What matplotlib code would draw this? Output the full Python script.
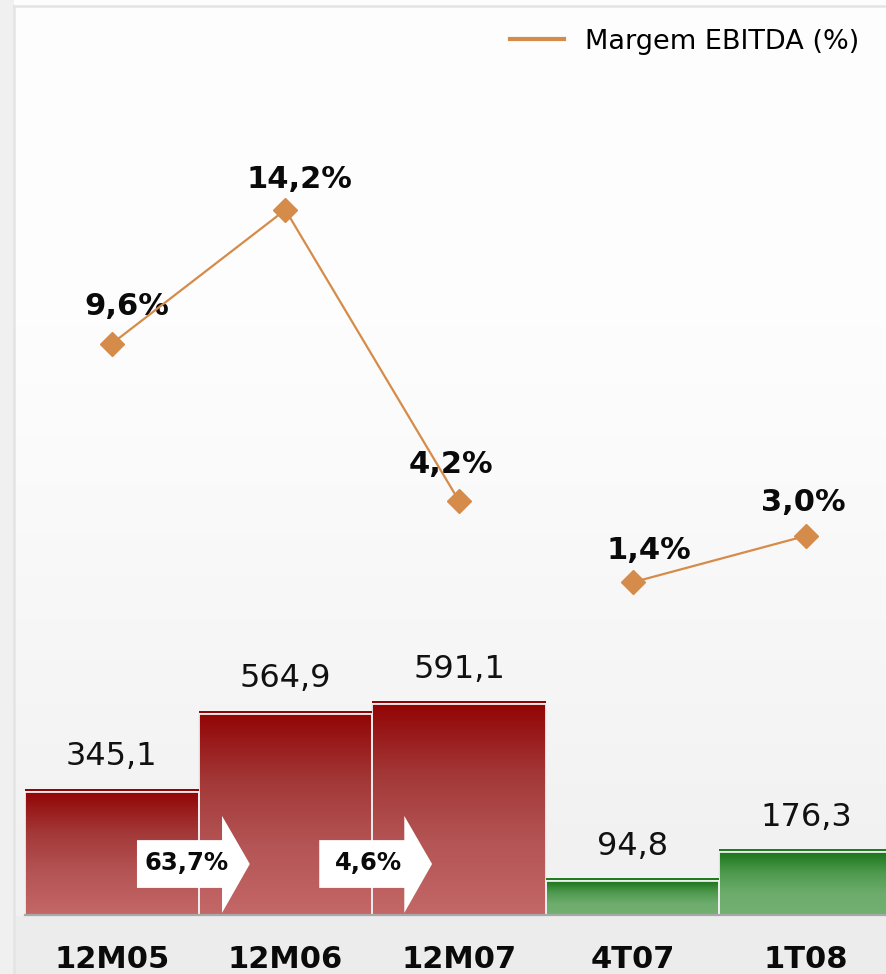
import matplotlib
matplotlib.use("Agg")
import matplotlib.pyplot as plt
import numpy as np
from matplotlib.colors import LinearSegmentedColormap
from matplotlib.patches import Polygon, Rectangle

# dados
periodos = ["12M05", "12M06", "12M07", "4T07", "1T08"]
ebitda = [345.1, 564.9, 591.1, 94.8, 176.3]
margem = [9.6, 14.2, 4.2, 1.4, 3.0]
rotulos_ebitda = ["345,1", "564,9", "591,1", "94,8", "176,3"]
rotulos_margem = ["9,6%", "14,2%", "4,2%", "1,4%", "3,0%"]
grupos = [(0, 3), (3, 5)]          # anual / trimestral
crescimento = [(0, 1), (1, 2)]      # setas de variacao entre barras

LARANJA = "#d58b49"
cmap_verm = LinearSegmentedColormap.from_list("v", ["#930505", "#a33838", "#b55555", "#c46767"])
cmap_verde = LinearSegmentedColormap.from_list("g", ["#1c761c", "#4f9a4f", "#6dac6d", "#72b072"])
cores = [cmap_verm, cmap_verm, cmap_verm, cmap_verde, cmap_verde]
topo = ["#8e0000", "#8e0000", "#8e0000", "#1a7a1a", "#1a7a1a"]

W, H = 886, 974
fig = plt.figure(figsize=(W / 100, H / 100), dpi=100)

# fundo: quase branco em cima, cinza claro embaixo
bg = fig.add_axes([0, 0, 1, 1], zorder=-10)
grad = np.linspace(0, 1, 400)
r = 0.995 - 0.043 * np.clip((grad - 0.3) / 0.55, 0, 1) ** 1.2
r = np.where(grad > 0.94, 0.93, r)
img = np.stack([r, r - 0.004 * grad, r - 0.002 * grad], axis=-1)[:, None, :].repeat(2, axis=1)
bg.imshow(np.clip(img, 0, 1), aspect="auto", extent=[0, 1, 1, 0])
bg.set_xlim(0, 1)
bg.set_ylim(1, 0)
bg.axis("off")
bg.add_patch(Rectangle((0, 0), 14 / W, 1, color="#f1f0f0", lw=0))
bg.plot([14 / W, 14 / W], [6 / H, 1], color="#e4e4e4", lw=1.8)
bg.plot([14 / W, 1], [6 / H, 6 / H], color="#e4e4e4", lw=1.8)

ax = fig.add_axes([25 / W, 59 / H, 861 / W, 906 / H])
ax.set_xlim(-0.5, 4.46)
ax.set_ylim(0, 2541)
ax.patch.set_alpha(0)
for s in ax.spines.values():
    s.set_visible(False)
ax.set_xticks([])
ax.set_yticks([])
ax.axhline(0, color="#a8a8a8", lw=1.6, zorder=5, clip_on=False)

x = np.arange(len(periodos))
barras = ax.bar(x, ebitda, width=1.0, facecolor="none", edgecolor="#eeeeee", lw=1.3, zorder=3)
for i, b in enumerate(barras):
    g = np.linspace(0, 1, 100)[:, None]
    im = ax.imshow(g, cmap=cores[i], aspect="auto",
                   extent=[b.get_x(), b.get_x() + b.get_width(), 0, b.get_height()],
                   origin="upper", zorder=2)
    im.set_clip_path(b)
    ax.plot([b.get_x(), b.get_x() + b.get_width()], [b.get_height() + 5] * 2,
            color=topo[i], lw=1.4, zorder=4, solid_capstyle="butt")
    ax.text(x[i], b.get_height() + 55, rotulos_ebitda[i], ha="center", va="bottom",
            fontsize=23, color="#111111")
    ax.text(x[i], -125, periodos[i], ha="center", va="center", fontsize=22,
            fontweight="bold", color="#0a0a0a", clip_on=False)

# setas de crescimento
for k, (a, b) in enumerate(crescimento):
    xl = (a + b) / 2 - 0.355 + 0.05 * k   # lado esquerdo da seta
    pct = (ebitda[b] / ebitda[a] - 1) * 100
    pts = [(xl, 76), (xl + 0.49, 76), (xl + 0.49, 6), (xl + 0.65, 143),
           (xl + 0.49, 278), (xl + 0.49, 210), (xl, 210)]
    ax.add_patch(Polygon(pts, closed=True, facecolor="white", edgecolor="none", zorder=6))
    ax.text(xl + 0.285, 145, f"{pct:.1f}%".replace(".", ","), ha="center",
            va="center", fontsize=17.5, fontweight="bold", color="#0a0a0a", zorder=7)

# margem
ax2 = ax.twinx()
ax2.set_ylim(-10.03, 21.1)
ax2.set_xlim(-0.5, 4.46)
ax2.axis("off")
for ini, fim in grupos:
    ax2.plot(x[ini:fim], margem[ini:fim], color=LARANJA, lw=1.6, marker="D",
             markersize=12, markerfacecolor=LARANJA, markeredgecolor=LARANJA, zorder=5)
desloc = [(11, 27), (10, 22), (-6, 26), (12, 23), (-2, 24)]
for i, m in enumerate(margem):
    ax2.annotate(rotulos_margem[i], (x[i], m), xytext=desloc[i], textcoords="offset points",
                 ha="center", va="center", fontsize=22, fontweight="bold", color="#0a0a0a")

ax2.plot([], [], color=LARANJA, lw=3, label="Margem EBITDA (%)")
leg = ax2.legend(loc="upper right", bbox_to_anchor=(1.0, 1.008), frameon=False, fontsize=19.5,
                 handlelength=2.0, handletextpad=0.75, borderaxespad=0.6)

fig.savefig("out.png", dpi=100)
